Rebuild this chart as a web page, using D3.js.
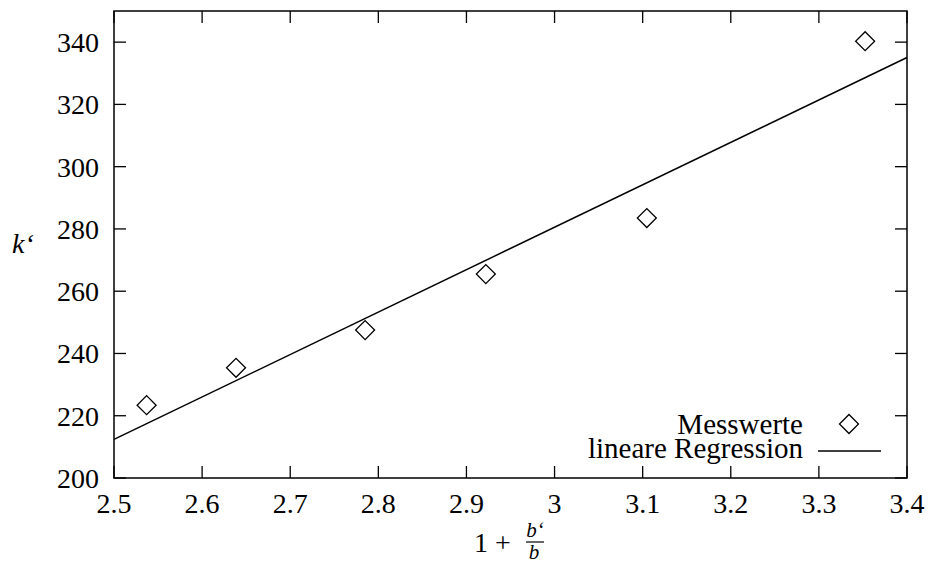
<!DOCTYPE html>
<html>
<head>
<meta charset="utf-8">
<script src="https://cdn.jsdelivr.net/npm/d3@7"></script>
</head>
<body style="margin:0; background:#fff">
<svg id="chart" width="934" height="563"></svg>
<script>
// measured values (x = 1 + b'/b, y = k')
const xValues = [2.537, 2.6385, 2.785, 2.922, 3.1047, 3.3525];
const yValues = [223.4, 235.4, 247.5, 265.5, 283.5, 340.3];
// linear regression k' = slope * x + intercept
const regSlope = 136.3;
const regIntercept = -128.35;
const xTicks = [2.5, 2.6, 2.7, 2.8, 2.9, 3, 3.1, 3.2, 3.3, 3.4];
const yTicks = [200, 220, 240, 260, 280, 300, 320, 340];
const legendLabels = ["Messwerte", "lineare Regression"];

const FONT = "Liberation Serif";
const svg = d3.select("#chart").attr("font-family", FONT);
const margin = { top: 11, right: 27, bottom: 85, left: 114 };
const width = +svg.attr("width");
const height = +svg.attr("height");
const innerWidth = width - margin.left - margin.right;
const innerHeight = height - margin.top - margin.bottom;

const x = d3.scaleLinear().domain([2.5, 3.4]).range([0, innerWidth]);
const y = d3.scaleLinear().domain([200, 350]).range([innerHeight, 0]);

const g = svg.append("g").attr("transform", `translate(${margin.left},${margin.top})`);

const fontSize = 28;
const tickLen = 12;

// ticks (inward, mirrored)
const tickG = g.append("g").attr("stroke", "#000").attr("stroke-width", 1.3);
xTicks.forEach((t) => {
  tickG.append("line").attr("x1", x(t)).attr("x2", x(t)).attr("y1", innerHeight).attr("y2", innerHeight - tickLen);
  tickG.append("line").attr("x1", x(t)).attr("x2", x(t)).attr("y1", 0).attr("y2", tickLen);
});
yTicks.forEach((t) => {
  tickG.append("line").attr("x1", 0).attr("x2", tickLen).attr("y1", y(t)).attr("y2", y(t));
  tickG.append("line").attr("x1", innerWidth).attr("x2", innerWidth - tickLen).attr("y1", y(t)).attr("y2", y(t));
});

// tick labels
g.append("g").selectAll("text").data(xTicks).join("text")
  .attr("x", (d) => x(d))
  .attr("y", innerHeight + 35)
  .attr("text-anchor", "middle")
  .attr("font-family", FONT)
  .attr("font-size", fontSize)
  .text((d) => String(d));

g.append("g").selectAll("text").data(yTicks).join("text")
  .attr("x", -15)
  .attr("y", (d) => y(d) + 10)
  .attr("text-anchor", "end")
  .attr("font-family", FONT)
  .attr("font-size", fontSize)
  .text((d) => d);

// regression line
const regLine = d3.line().x((d) => x(d)).y((d) => y(regSlope * d + regIntercept));
g.append("path")
  .datum(x.domain())
  .attr("fill", "none")
  .attr("stroke", "#000")
  .attr("stroke-width", 1.5)
  .attr("d", regLine);

// data points as diamonds
const diamond = d3.symbol().type(d3.symbolSquare).size(180);
g.append("g").selectAll("path").data(xValues).join("path")
  .attr("d", diamond)
  .attr("transform", (d, i) => `translate(${x(d)},${y(yValues[i])}) rotate(45)`)
  .attr("fill", "none")
  .attr("stroke", "#000")
  .attr("stroke-width", 1.3);

// frame
g.append("rect")
  .attr("width", innerWidth)
  .attr("height", innerHeight)
  .attr("fill", "none")
  .attr("stroke", "#000")
  .attr("stroke-width", 1.5);

// legend
const legend = svg.append("g");
legend.selectAll("text").data(legendLabels).join("text")
  .attr("x", 803)
  .attr("y", (d, i) => 434 + i * 24)
  .attr("text-anchor", "end")
  .attr("font-family", FONT)
  .attr("font-size", 29)
  .text((d) => d);
legend.append("path")
  .attr("d", diamond)
  .attr("transform", "translate(849,424) rotate(45)")
  .attr("fill", "none")
  .attr("stroke", "#000")
  .attr("stroke-width", 1.3);
legend.append("line")
  .attr("x1", 818).attr("x2", 881).attr("y1", 451).attr("y2", 451)
  .attr("stroke", "#000").attr("stroke-width", 1.5);

// x axis title: 1 + b‘/b
const xt = svg.append("g").attr("font-family", FONT);
xt.append("text").attr("x", 474).attr("y", 552).attr("font-size", fontSize).text("1 +");
xt.append("text").attr("x", 535).attr("y", 537).attr("text-anchor", "middle")
  .attr("font-size", 21).attr("font-style", "italic").text("b‘");
xt.append("line").attr("x1", 526).attr("x2", 544).attr("y1", 542).attr("y2", 542)
  .attr("stroke", "#000").attr("stroke-width", 1.2);
xt.append("text").attr("x", 534).attr("y", 559).attr("text-anchor", "middle")
  .attr("font-size", 21).attr("font-style", "italic").text("b");

// y axis title
svg.append("text")
  .attr("x", 12)
  .attr("y", 253)
  .attr("font-family", FONT)
  .attr("font-size", fontSize)
  .attr("font-style", "italic")
  .text("k‘");
</script>
</body>
</html>
